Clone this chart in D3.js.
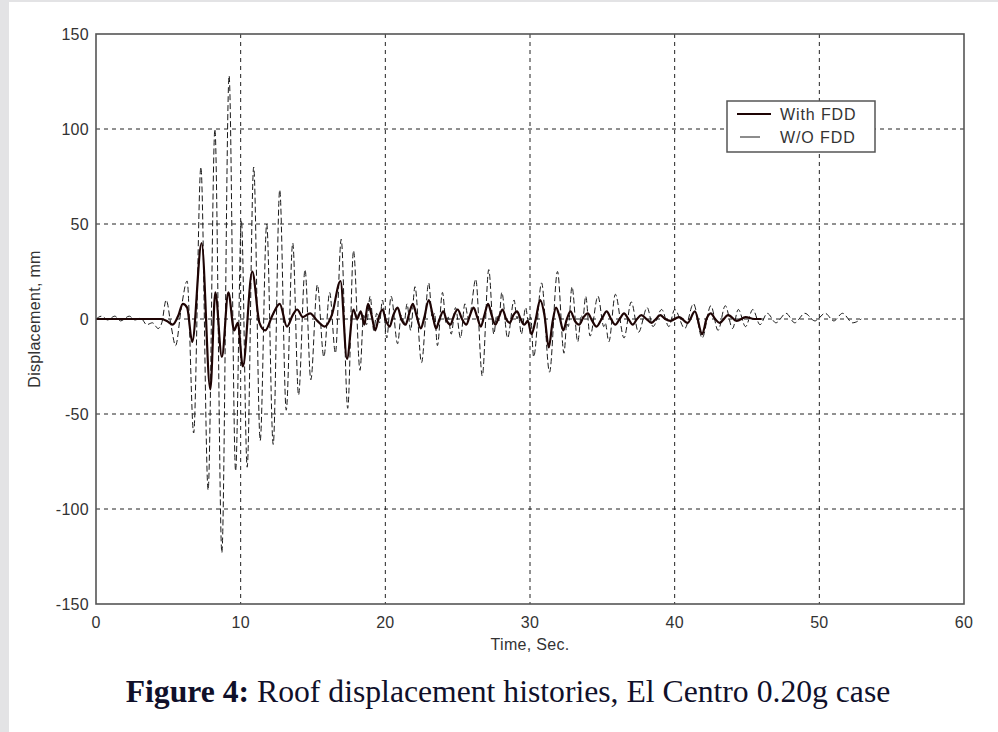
<!DOCTYPE html>
<html>
<head>
<meta charset="utf-8">
<script src="https://cdn.jsdelivr.net/npm/d3@7"></script>
<style>
  html, body { margin: 0; padding: 0; background: #e3e3e5; }
  svg { display: block; }
  .tick-label { font-family: "Liberation Sans", Arial, sans-serif; font-size: 16px; letter-spacing: 0.3px; fill: #333; }
  .legend-label { font-family: "Liberation Sans", Arial, sans-serif; font-size: 16px; letter-spacing: 0.9px; fill: #333; }
  .caption { font-family: "Liberation Serif", "Times New Roman", serif; font-size: 31px; fill: #10102a; }
</style>
</head>
<body>
<svg id="chart" width="998" height="732"></svg>
<script>
// axis ticks
var xTicks = [0, 10, 20, 30, 40, 50, 60];
var yTicks = [-150, -100, -50, 0, 50, 100, 150];

// roof displacement, with friction damper device  [time s, displacement mm]
var withFdd = [
  [0, 0], [4.5, 0], [4.9, -1], [5.3, -3], [5.7, 2], [6.0, 8], [6.3, 6], [6.65, -12],
  [7.3, 40], [7.9, -37], [8.25, 14], [8.7, -20], [9.15, 14], [9.55, -6], [9.8, -2],
  [10.15, -25], [10.8, 25], [11.3, -2], [11.7, -6], [12.2, 2], [12.7, 8], [13.2, -4],
  [13.6, 2], [13.9, 5], [14.3, 1], [14.8, 3], [15.3, -1], [15.8, -4], [16.3, 2], [16.9, 20],
  [17.35, -21], [17.8, 5], [18.05, 0], [18.3, 4], [18.55, -3], [18.8, 8], [19.05, 2],
  [19.3, -6], [19.55, 1], [19.8, 5], [20.05, -1], [20.3, -4], [20.55, 2], [20.85, 6],
  [21.1, 0], [21.4, -3], [21.65, 3], [21.9, 8], [22.15, 2], [22.45, -5], [22.7, 1],
  [23.0, 10], [23.25, 3], [23.5, -5], [23.75, 0], [24.0, 4], [24.25, -1], [24.5, -3],
  [24.75, 2], [25.0, 5], [25.3, 0], [25.6, -3], [25.85, 2], [26.1, 6], [26.35, 1],
  [26.6, -4], [26.85, 2], [27.1, 8], [27.35, 2], [27.6, -3], [27.85, 1], [28.1, 5],
  [28.35, 0], [28.6, -2], [28.85, 2], [29.1, 4], [29.35, 0], [29.6, -3], [29.85, -1],
  [30.1, -8], [30.4, 0], [30.7, 10], [31.0, 2], [31.3, -15], [31.55, -2], [31.8, 6],
  [32.05, 1], [32.3, -6], [32.55, 0], [32.8, 4], [33.1, -1], [33.4, -3], [33.7, 1],
  [34.0, 3], [34.3, -1], [34.6, -4], [34.95, 0], [35.3, 4], [35.6, 0], [35.9, -3],
  [36.2, 0], [36.5, 3], [36.8, 0], [37.1, -3], [37.4, 0], [37.7, 2], [38.05, 0],
  [38.4, -2], [38.7, 0], [39.0, 2], [39.35, 0], [39.7, -1], [40.3, 1], [40.9, -2],
  [41.4, 4], [41.9, -8], [42.2, 0], [42.5, 3], [42.8, 0], [43.1, -2], [43.7, 2],
  [44.3, -1], [44.9, 1], [45.5, 0], [46.0, 0]
];

// roof displacement, without damper  [time s, displacement mm]
var withoutFdd = [
  [0, 0], [0.4, 1.5], [0.8, -0.5], [1.3, 1.5], [1.7, -1], [2.3, 1.5], [2.7, -0.5],
  [3.1, 0.5], [3.5, -3], [3.9, -2], [4.3, -5], [4.55, -2], [4.85, 10], [5.2, -4],
  [5.5, -14], [5.9, 6], [6.3, 20], [6.75, -60], [7.25, 80], [7.75, -90], [8.22, 100],
  [8.7, -123], [9.2, 128], [9.65, -80], [10.05, 52], [10.45, -78], [10.9, 80],
  [11.35, -64], [11.8, 50], [12.25, -66], [12.7, 68], [13.15, -48], [13.6, 40],
  [14.0, -40], [14.45, 26], [14.85, -32], [15.3, 18], [15.75, -20], [16.15, 14],
  [16.55, -18], [16.95, 42], [17.4, -47], [17.8, 36], [18.25, -27], [18.5, 2],
  [18.7, -3], [18.95, 12], [19.2, -6], [19.4, 3], [19.6, -2], [19.8, 10], [20.1, -10],
  [20.4, 12], [20.85, -13], [21.1, 2], [21.3, -2], [21.5, 8], [21.75, -6], [22.05, 17],
  [22.5, -23], [23.0, 19], [23.25, 0], [23.4, 3], [23.6, -14], [23.95, 14], [24.2, -2],
  [24.35, 1], [24.55, -8], [24.85, 6], [25.2, -10], [25.5, 8], [25.75, 0], [25.9, 4],
  [26.25, 21], [26.7, -30], [27.15, 26], [27.5, -8], [27.7, 2], [27.85, -1], [28.05, 14],
  [28.45, -10], [28.9, 10], [29.1, 0], [29.2, 2], [29.4, -8], [29.7, 6], [29.9, -2],
  [30.05, 1], [30.25, -20], [30.8, 19], [31.35, -28], [31.9, 25], [32.35, -18],
  [32.55, -2], [32.65, -4], [32.9, 17], [33.3, -12], [33.55, 2], [33.65, 0],
  [33.85, 12], [34.15, -9], [34.7, 12], [35.1, -4], [35.2, -2], [35.45, -12], [35.9, 13],
  [36.5, -10], [37.0, 9], [37.5, -7], [38.1, 6], [38.5, -4], [39.1, 5], [39.6, -4],
  [40.0, 5], [40.7, -5], [41.3, 8], [41.9, -10], [42.5, 7], [43.0, -6], [43.5, 7],
  [44.0, -5], [44.4, 5], [44.9, -4], [45.4, 5], [45.9, -3], [46.4, 3], [47.0, -2],
  [47.7, 3], [48.3, -2], [49.0, 3], [49.7, -1], [50.4, 3], [51.0, -1], [51.6, 3],
  [52.3, -2], [52.9, 0]
];

var seriesNames = ['With FDD', 'W/O FDD'];

var svg = d3.select('#chart');

// white page area (grey strip left / top like the scanned page)
svg.append('rect')
  .attr('x', 9).attr('y', 2)
  .attr('width', 989).attr('height', 730)
  .attr('fill', '#fff');

var margin = {left: 96, top: 34, right: 964, bottom: 604};

var x = d3.scaleLinear().domain([0, 60]).range([margin.left, margin.right]);
var y = d3.scaleLinear().domain([-150, 150]).range([margin.bottom, margin.top]);

// grid
var grid = svg.append('g').attr('class', 'grid')
  .attr('stroke', '#222')
  .attr('stroke-width', 1)
  .attr('stroke-dasharray', '4,4');

grid.selectAll('line.gx')
  .data(xTicks.slice(1, -1))
  .enter().append('line')
  .attr('class', 'gx')
  .attr('x1', function(d) { return x(d); })
  .attr('x2', function(d) { return x(d); })
  .attr('y1', margin.top)
  .attr('y2', margin.bottom);

grid.selectAll('line.gy')
  .data(yTicks.slice(1, -1))
  .enter().append('line')
  .attr('class', 'gy')
  .attr('y1', function(d) { return y(d); })
  .attr('y2', function(d) { return y(d); })
  .attr('x1', margin.left)
  .attr('x2', margin.right);

// series
var line = d3.line()
  .x(function(d) { return x(d[0]); })
  .y(function(d) { return y(d[1]); })
  .curve(d3.curveMonotoneX);

svg.append('path')
  .datum(withoutFdd)
  .attr('fill', 'none')
  .attr('stroke', '#1a1a1a')
  .attr('stroke-width', 1)
  .attr('stroke-dasharray', '6,3')
  .attr('d', line);

svg.append('path')
  .datum(withFdd)
  .attr('fill', 'none')
  .attr('stroke', '#1e0404')
  .attr('stroke-width', 2.2)
  .attr('stroke-linejoin', 'round')
  .attr('d', line);

// frame
svg.append('rect')
  .attr('x', margin.left).attr('y', margin.top)
  .attr('width', margin.right - margin.left)
  .attr('height', margin.bottom - margin.top)
  .attr('fill', 'none')
  .attr('stroke', '#555')
  .attr('stroke-width', 1.6);

// tick labels
svg.selectAll('text.xt')
  .data(xTicks)
  .enter().append('text')
  .attr('class', 'tick-label xt')
  .attr('x', function(d) { return x(d); })
  .attr('y', 628)
  .attr('text-anchor', 'middle')
  .text(function(d) { return d; });

svg.selectAll('text.yt')
  .data(yTicks)
  .enter().append('text')
  .attr('class', 'tick-label yt')
  .attr('x', 89)
  .attr('y', function(d) { return y(d) + 6; })
  .attr('text-anchor', 'end')
  .text(function(d) { return d; });

// axis titles
svg.append('text')
  .attr('class', 'tick-label')
  .attr('x', x(30))
  .attr('y', 650)
  .attr('text-anchor', 'middle')
  .text('Time, Sec.');

svg.append('text')
  .attr('class', 'tick-label')
  .attr('transform', 'translate(40,' + y(0) + ') rotate(-90)')
  .attr('text-anchor', 'middle')
  .text('Displacement, mm');

// legend
var legend = svg.append('g').attr('class', 'legend');

legend.append('rect')
  .attr('x', 727).attr('y', 101)
  .attr('width', 148).attr('height', 51)
  .attr('fill', '#fff')
  .attr('stroke', '#555')
  .attr('stroke-width', 1.5);

legend.append('line')
  .attr('x1', 737).attr('x2', 771)
  .attr('y1', 114).attr('y2', 114)
  .attr('stroke', '#1e0404').attr('stroke-width', 2.2);

legend.append('line')
  .attr('x1', 740).attr('x2', 760)
  .attr('y1', 137).attr('y2', 137)
  .attr('stroke', '#1a1a1a').attr('stroke-width', 1);

legend.selectAll('text')
  .data(seriesNames)
  .enter().append('text')
  .attr('class', 'legend-label')
  .attr('x', 780)
  .attr('y', function(d, i) { return 120 + i * 23; })
  .text(function(d) { return d; });

// caption, fitted to the width it has in the figure
var caption = svg.append('text')
  .attr('class', 'caption')
  .attr('x', 0)
  .attr('y', 0)
  .attr('text-anchor', 'middle');

caption.append('tspan').attr('font-weight', 'bold').text('Figure 4:');
caption.append('tspan').text(' Roof displacement histories, El Centro 0.20g case');

var capWidth = caption.node().getComputedTextLength();
var sx = 765 / capWidth;
caption.attr('transform', 'translate(508,702) scale(' + sx + ',1)');
</script>
</body>
</html>
